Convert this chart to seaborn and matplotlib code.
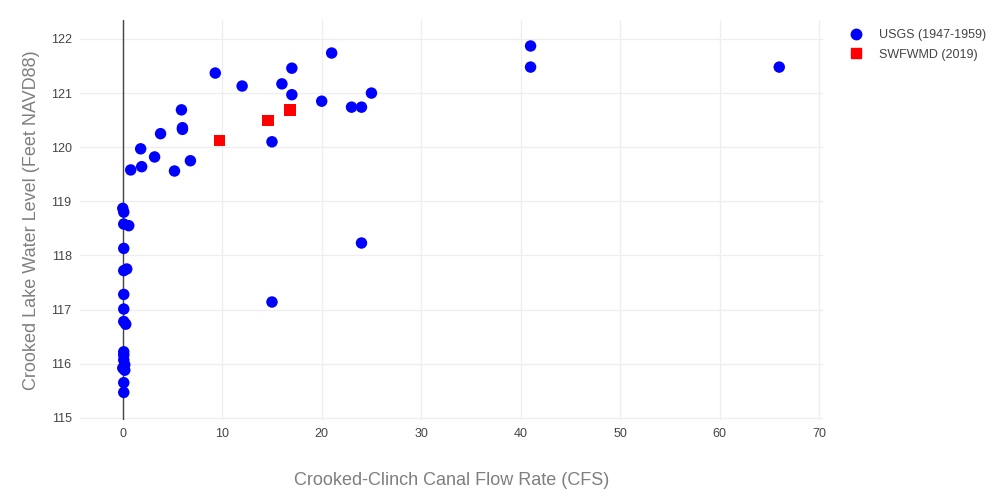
import matplotlib
matplotlib.use("Agg")
import matplotlib.pyplot as plt
import seaborn as sns
import pandas as pd
from matplotlib.lines import Line2D

usgs_flow = [0.8, 1.8, 1.9, 3.2, 3.8, 5.2, 5.9, 6.0, 6.0, 6.8, 9.3, 12.0, 15.0, 16.0,
             17.0, 17.0, 20.0, 21.0, 23.0, 24.0, 25.0, 24.0, 15.0, 41.0, 41.0, 66.0,
             0.0, 0.1, 0.1, 0.6, 0.1, 0.1, 0.4, 0.1, 0.1, 0.1, 0.3, 0.1, 0.1, 0.1,
             0.2, 0.0, 0.2, 0.1, 0.1]
usgs_level = [119.58, 119.97, 119.64, 119.82, 120.25, 119.56, 120.69, 120.36, 120.33,
              119.75, 121.37, 121.13, 120.10, 121.17, 121.46, 120.97, 120.85, 121.74,
              120.74, 120.74, 121.00, 118.23, 117.14, 121.87, 121.48, 121.48,
              118.87, 118.80, 118.58, 118.55, 118.13, 117.72, 117.75, 117.28, 117.01,
              116.78, 116.73, 116.22, 116.16, 116.07, 115.98, 115.92, 115.88, 115.65,
              115.47]
swf_flow = [9.75, 14.6, 16.8]
swf_level = [120.12, 120.49, 120.69]

series_names = ["USGS (1947-1959)", "SWFWMD (2019)"]
x_ticks = [0, 10, 20, 30, 40, 50, 60, 70]
y_ticks = [115, 116, 117, 118, 119, 120, 121, 122]

sns.set_theme(style="white")
plt.rcParams['font.family'] = ['Liberation Sans', 'DejaVu Sans']

df = pd.DataFrame({
    "flow": usgs_flow + swf_flow,
    "level": usgs_level + swf_level,
    "series": [series_names[0]] * len(usgs_flow) + [series_names[1]] * len(swf_flow),
})

fig = plt.figure(figsize=(10, 5), dpi=100)
ax = fig.add_axes([0.08, 0.16, 0.743, 0.80])

ax.set_xlim(-4.3, 70.4)
ax.set_ylim(114.96, 122.35)
ax.set_xticks(x_ticks)
ax.set_yticks(y_ticks)
ax.grid(True, color="#eeeeee", linewidth=0.9)
ax.set_axisbelow(True)
ax.axvline(0, color="#444444", linewidth=1, zorder=1)
for s in ax.spines.values():
    s.set_visible(False)

sns.scatterplot(data=df, x="flow", y="level", hue="series", style="series",
                palette={series_names[0]: "#0000ff", series_names[1]: "#ff0000"},
                markers={series_names[0]: "o", series_names[1]: "s"},
                s=68, linewidth=0, ax=ax, legend=False, zorder=3)

ax.tick_params(axis="both", labelsize=9, colors="#444444", length=0, pad=6)
ax.set_xlabel("Crooked-Clinch Canal Flow Rate (CFS)", fontsize=13, color="#7f7f7f", labelpad=23)
ax.set_ylabel("Crooked Lake Water Level (Feet NAVD88)", fontsize=13, color="#7f7f7f", labelpad=8)

handles = [Line2D([], [], marker="o", color="#0000ff", linestyle="", markersize=7.5),
           Line2D([], [], marker="s", color="#ff0000", linestyle="", markersize=7.5)]
leg = ax.legend(handles, series_names, loc="upper left", bbox_to_anchor=(1.012, 1.005),
                frameon=False, fontsize=9, labelcolor="#444444", handletextpad=0.9,
                labelspacing=0.6)

fig.savefig("out.png", dpi=100)
